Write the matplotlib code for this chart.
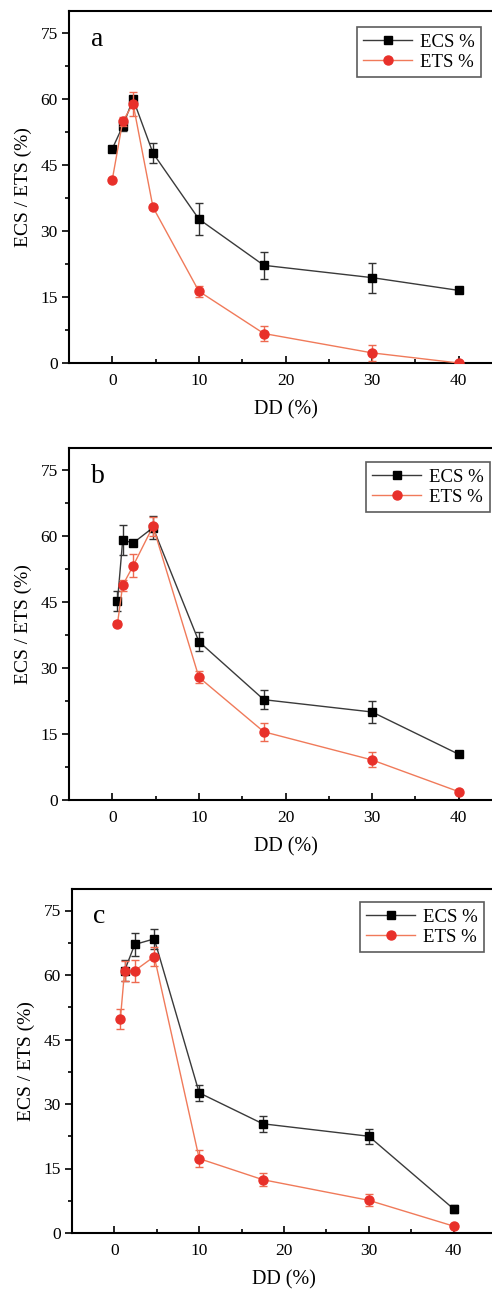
import matplotlib
matplotlib.use("Agg")
import matplotlib.pyplot as plt
from matplotlib.ticker import MultipleLocator

plt.rcParams['font.family'] = ['Liberation Serif', 'DejaVu Serif']

# ---- data ----
x_a_ecs = [0, 1.2, 2.4, 4.7, 10, 17.5, 30, 40]
a_ecs = [48.7, 53.8, 60.0, 47.7, 32.7, 22.2, 19.4, 16.5]
a_ecs_err = [0.5, 1.1, 0.6, 2.3, 3.7, 3.1, 3.4, 0.5]
x_a_ets = [0, 1.2, 2.4, 4.7, 10, 17.5, 30, 40]
a_ets = [41.7, 54.9, 58.9, 35.4, 16.3, 6.7, 2.3, 0.0]
a_ets_err = [0.3, 1.0, 2.7, 0.5, 1.3, 1.7, 1.8, 0.2]

x_b_ecs = [0.6, 1.2, 2.4, 4.7, 10, 17.5, 30, 40]
b_ecs = [45.2, 59.1, 58.4, 61.9, 36.0, 22.8, 20.0, 10.4]
b_ecs_err = [2.2, 3.4, 0.5, 2.6, 2.2, 2.2, 2.6, 0.5]
x_b_ets = [0.6, 1.2, 2.4, 4.7, 10, 17.5, 30, 40]
b_ets = [40.1, 48.8, 53.2, 62.2, 27.9, 15.5, 9.1, 1.9]
b_ets_err = [0.5, 1.2, 2.6, 2.1, 1.4, 2.0, 1.7, 0.3]

x_c_ecs = [1.2, 2.4, 4.7, 10, 17.5, 30, 40]
c_ecs = [61.0, 67.1, 68.4, 32.6, 25.4, 22.5, 5.6]
c_ecs_err = [2.5, 2.7, 2.3, 1.9, 1.8, 1.7, 1.0]
x_c_ets = [0.7, 1.2, 2.4, 4.7, 10, 17.5, 30, 40]
c_ets = [49.7, 60.9, 61.0, 64.3, 17.3, 12.4, 7.6, 1.6]
c_ets_err = [2.3, 2.4, 2.6, 2.1, 1.9, 1.5, 1.4, 0.5]

panel_letters = ['a', 'b', 'c']
series_labels = ['ECS %', 'ETS %']
x_label = 'DD (%)'
y_label = 'ECS / ETS (%)'
x_ticks = [0, 10, 20, 30, 40]
y_ticks = [0, 15, 30, 45, 60, 75]

W, H = 492, 1291
fig = plt.figure(figsize=(W / 100, H / 100), dpi=100)

# pixel boxes: left, right, top, bottom
boxes = [(69, 502, 11, 363), (69, 502, 448, 800), (72, 496, 889, 1233)]
legend_anchor = [(481, 27), (490, 462), (484, 902)]
panels = [
    (x_a_ecs, a_ecs, a_ecs_err, x_a_ets, a_ets, a_ets_err),
    (x_b_ecs, b_ecs, b_ecs_err, x_b_ets, b_ets, b_ets_err),
    (x_c_ecs, c_ecs, c_ecs_err, x_c_ets, c_ets, c_ets_err),
]

black_line = '#3a3a3a'
red_line = '#f07a5a'
red_mark = '#e8302a'

for i, ((l, r, t, b), data) in enumerate(zip(boxes, panels)):
    ax = fig.add_axes([l / W, (H - b) / H, (r - l) / W, (b - t) / H])
    xe, ye, ee, xt, yt, et = data
    c1 = ax.errorbar(xe, ye, yerr=ee, color=black_line, lw=1.0, marker='s',
                     ms=6, mfc='black', mec='black', ecolor='#333333',
                     elinewidth=1.0, capsize=3, capthick=1.0, zorder=3)
    c2 = ax.errorbar(xt, yt, yerr=et, color=red_line, lw=1.0, marker='o',
                     ms=6.5, mfc=red_mark, mec=red_mark, ecolor='#ee6a50',
                     elinewidth=1.0, capsize=3, capthick=1.0, zorder=4)
    ax.set_xlim(-5, 45)
    ax.set_ylim(0, 80)
    ax.set_xticks(x_ticks)
    ax.set_yticks(y_ticks)
    ax.xaxis.set_minor_locator(MultipleLocator(5))
    ax.yaxis.set_minor_locator(MultipleLocator(7.5))
    ax.tick_params(axis='x', which='both', direction='in', width=1.2, labelsize=12.5, pad=7)
    ax.tick_params(axis='x', which='major', length=5)
    ax.tick_params(axis='x', which='minor', length=3)
    ax.tick_params(axis='y', which='both', direction='out', width=1.2, labelsize=12.5, pad=3)
    ax.tick_params(axis='y', which='major', length=5)
    ax.tick_params(axis='y', which='minor', length=3)
    for s in ['left', 'bottom', 'top', 'right']:
        ax.spines[s].set_linewidth(1.5)
    ax.set_xlabel(x_label, fontsize=14.5, labelpad=8)
    ax.set_ylabel(y_label, fontsize=14, labelpad=6)
    ax.text(0.05, 0.92, panel_letters[i], transform=ax.transAxes,
            fontsize=20, va='center', ha='left')
    lx, ly = legend_anchor[i]
    leg = ax.legend([c1.lines[0], c2.lines[0]], series_labels,
                    loc='upper right', bbox_to_anchor=(lx / W, 1 - ly / H),
                    bbox_transform=fig.transFigure, fontsize=13.5,
                    frameon=True, fancybox=False, borderaxespad=0,
                    handlelength=2.6, handletextpad=0.4, borderpad=0.35,
                    labelspacing=0.15)
    leg.get_frame().set_edgecolor('#333333')
    leg.get_frame().set_linewidth(1.2)

fig.savefig('out.png', dpi=100)
